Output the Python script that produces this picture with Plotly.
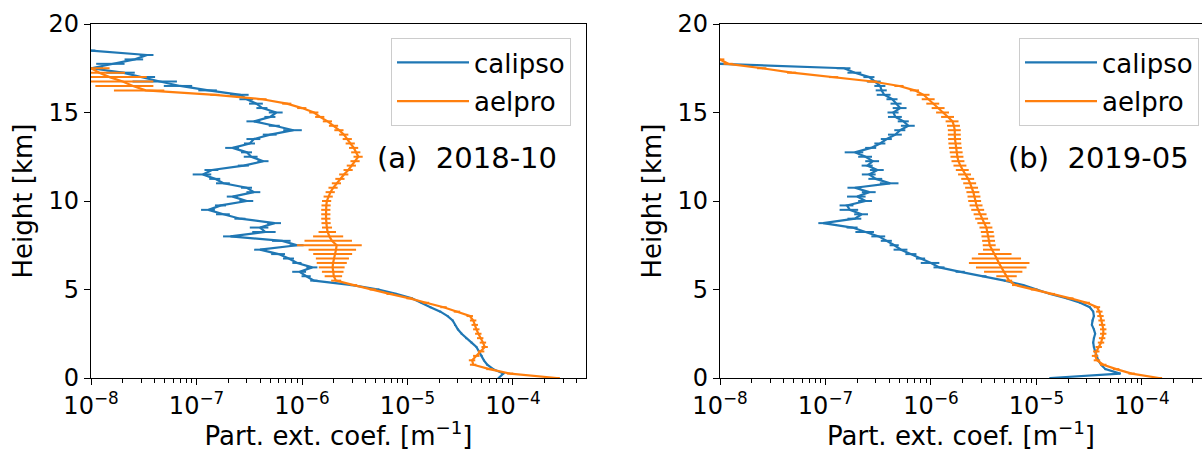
import plotly.graph_objects as go

# ---------------- data ----------------
HEIGHTS = [0.0, 0.25, 0.5, 0.75, 1.0, 1.25, 1.5, 1.75, 2.0, 2.25, 2.5, 2.75,
           3.0, 3.25, 3.5, 3.75, 4.0, 4.25, 4.5, 4.75, 5.0, 5.25, 5.5, 5.75,
           6.0, 6.25, 6.5, 6.75, 7.0, 7.25, 7.5, 7.75, 8.0, 8.25, 8.5, 8.75,
           9.0, 9.25, 9.5, 9.75, 10.0, 10.25, 10.5, 10.75, 11.0, 11.25, 11.5, 11.75,
           12.0, 12.25, 12.5, 12.75, 13.0, 13.25, 13.5, 13.75, 14.0, 14.25, 14.5, 14.75,
           15.0, 15.25, 15.5, 15.75, 16.0, 16.25, 16.5, 16.75, 17.0, 17.25, 17.5, 17.75,
           18.0, 18.25, 18.5]

# panel (a) 2018-10
calipso_a = [7.3e-5, 8.1e-5, 6.5e-5, 5.7e-5, 5.3e-5, 5.05e-5, 4.8e-5, 4.5e-5, 4.05e-5, 3.6e-5,
             3.26e-5, 3.0e-5, 2.82e-5, 2.68e-5, 2.4e-5, 2.05e-5, 1.65e-5, 1.36e-5, 1.1e-5, 7.8e-6,
             5.3e-6, 3.0e-6, 1.3e-6, 1.1e-6, 9.5e-7, 1.25e-6, 9.0e-7, 7.5e-7, 6.0e-7, 4.0e-7,
             9.0e-7, 6.5e-7, 2.1e-7, 4.5e-7, 4.0e-7, 5.5e-7, 2.6e-7, 1.8e-7, 1.3e-7, 1.7e-7,
             3.0e-7, 2.2e-7, 3.5e-7, 3.0e-7, 1.8e-7, 1.5e-7, 1.15e-7, 1.4e-7, 2.8e-7, 4.3e-7,
             3.3e-7, 3.0e-7, 2.2e-7, 3.2e-7, 3.5e-7, 5.0e-7, 8.3e-7, 5.5e-7, 3.5e-7, 5.0e-7,
             5.7e-7, 4.2e-7, 3.7e-7, 3.0e-7, 2.6e-7, 1.3e-7, 7.0e-8, 4.5e-8, 3.0e-8, 2.0e-8,
             1.0e-8, 1.6e-8, 2.6e-8, 3.4e-8, 1.0e-8]
calipso_a_err = [0.02] * 21 + [
    0.05, 0.08, 0.1, 0.15, 0.12, 0.1, 0.12, 0.15, 0.12, 0.15, 0.2, 0.15, 0.25, 0.2,
    0.15, 0.12, 0.15, 0.15, 0.12, 0.15, 0.12, 0.15, 0.12, 0.15, 0.12, 0.2, 0.15, 0.12,
    0.12, 0.15, 0.12, 0.15, 0.12, 0.15, 0.15, 0.2, 0.12, 0.15, 0.12, 0.15, 0.12, 0.15,
    0.15, 0.2, 0.2, 0.3, 0.45, 0.35, 0.3, 0.3, 0.3, 0.2, 0.15, 0.1]

aelpro_a = [2.6e-4, 9.4e-5, 6.0e-5, 4.2e-5, 4.1e-5, 4.5e-5, 5.0e-5, 5.4e-5, 5.2e-5, 4.9e-5,
            4.7e-5, 4.5e-5, 4.35e-5, 4.2e-5, 3.9e-5, 2.95e-5, 2.2e-5, 1.5e-5, 1.05e-5, 6.8e-6,
            4.7e-6, 3.1e-6, 2.1e-6, 2.0e-6, 1.98e-6, 1.95e-6, 1.97e-6, 2.02e-6, 2.06e-6, 2.1e-6,
            2.13e-6, 1.92e-6, 1.82e-6, 1.75e-6, 1.72e-6, 1.7e-6, 1.69e-6, 1.69e-6, 1.69e-6, 1.7e-6,
            1.72e-6, 1.78e-6, 1.86e-6, 1.98e-6, 2.13e-6, 2.3e-6, 2.5e-6, 2.75e-6, 2.95e-6, 3.2e-6,
            3.42e-6, 3.25e-6, 3.1e-6, 2.88e-6, 2.7e-6, 2.5e-6, 2.25e-6, 2.0e-6, 1.75e-6, 1.48e-6,
            1.3e-6, 1.0e-6, 7.2e-7, 4.2e-7, 1.5e-7, 3.3e-8, 2.5e-8, 2.0e-8, 1.5e-8, 1.2e-8,
            1.0e-8]
aelpro_a_errp = [0.07] * 22 + [0.12, 0.2, 0.25, 0.3, 0.35, 0.38, 0.45, 0.55, 0.73, 0.55, 0.35, 0.2, 0.12] \
    + [0.1] * 30 + [0.5, 0.56, 0.95, 1.25, 0.75, 0.5]
aelpro_a_errm = [0.07] * 22 + [0.1, 0.18, 0.22, 0.26, 0.3, 0.33, 0.38, 0.45, 0.58, 0.45, 0.3, 0.18, 0.1] \
    + [0.1] * 30 + [0.5, 0.56, 0.95, 0.95, 0.75, 0.5]

# panel (b) 2019-05
calipso_b = [1.35e-5, 6.2e-5, 4.5e-5, 4.1e-5, 3.85e-5, 3.7e-5, 3.6e-5, 3.5e-5, 3.45e-5, 3.5e-5,
             3.6e-5, 3.5e-5, 3.35e-5, 3.4e-5, 3.5e-5, 3.45e-5, 3.2e-5, 2.6e-5, 1.95e-5, 1.35e-5,
             1.0e-5, 7.5e-6, 5.0e-6, 3.2e-6, 1.9e-6, 1.2e-6, 1.0e-6, 8.0e-7, 6.5e-7, 5.2e-7,
             4.5e-7, 3.8e-7, 3.2e-7, 2.4e-7, 1.8e-7, 9.5e-8, 1.9e-7, 2.2e-7, 1.7e-7, 1.6e-7,
             2.4e-7, 2.0e-7, 2.6e-7, 1.9e-7, 4.1e-7, 3.0e-7, 2.6e-7, 3.1e-7, 2.5e-7, 2.8e-7,
             2.4e-7, 1.9e-7, 2.7e-7, 3.3e-7, 3.8e-7, 4.6e-7, 5.1e-7, 6.1e-7, 5.5e-7, 4.6e-7,
             4.4e-7, 5.1e-7, 4.7e-7, 4.3e-7, 3.6e-7, 3.4e-7, 3.3e-7, 2.9e-7, 2.6e-7, 1.9e-7,
             1.5e-7, 1.0e-8]
calipso_b_err = [0.02] * 23 + [
    0.05, 0.1, 0.12, 0.2, 0.1, 0.12, 0.15, 0.1, 0.12, 0.15, 0.2, 0.12, 0.1, 0.15,
    0.15, 0.2, 0.15, 0.15, 0.2, 0.15, 0.15, 0.2, 0.15, 0.15, 0.15, 0.12, 0.15, 0.15,
    0.2, 0.12, 0.12, 0.12, 0.15, 0.12, 0.15, 0.12, 0.15, 0.12, 0.15, 0.12, 0.12, 0.15,
    0.12, 0.12, 0.15, 0.12, 0.15, 0.15, 0.1]

aelpro_b = [1.45e-4, 8.0e-5, 5.7e-5, 4.3e-5, 3.75e-5, 3.6e-5, 3.7e-5, 3.9e-5, 4.1e-5, 4.2e-5,
            4.3e-5, 4.3e-5, 4.2e-5, 4.15e-5, 4.05e-5, 3.95e-5, 3.75e-5, 3.0e-5, 2.1e-5, 1.4e-5,
            9.5e-6, 6.3e-6, 5.5e-6, 5.2e-6, 4.9e-6, 4.6e-6, 4.4e-6, 4.2e-6, 4.0e-6, 3.75e-6,
            3.6e-6, 3.55e-6, 3.5e-6, 3.45e-6, 3.35e-6, 3.2e-6, 3.05e-6, 2.95e-6, 2.8e-6, 2.7e-6,
            2.62e-6, 2.58e-6, 2.52e-6, 2.45e-6, 2.35e-6, 2.25e-6, 2.1e-6, 2.0e-6, 1.9e-6, 1.82e-6,
            1.78e-6, 1.75e-6, 1.72e-6, 1.7e-6, 1.69e-6, 1.68e-6, 1.68e-6, 1.65e-6, 1.6e-6, 1.45e-6,
            1.3e-6, 1.18e-6, 1.05e-6, 9.5e-7, 8.5e-7, 7.0e-7, 5.0e-7, 2.8e-7, 1.2e-7, 4.8e-8,
            2.5e-8, 1.2e-8, 1.0e-8]
aelpro_b_errp = [0.07] * 23 + [0.25, 0.5, 0.75, 0.95, 0.7, 0.45, 0.2] + [0.14] * 35 + [0.1] * 8
aelpro_b_errm = [0.07] * 23 + [0.2, 0.35, 0.42, 0.48, 0.42, 0.3, 0.17] + [0.14] * 35 + [0.1] * 8

X_TICKS = [1e-8, 1e-7, 1e-6, 1e-5, 1e-4]
X_TICKTEXT = ["10<sup>−8</sup>", "10<sup>−7</sup>", "10<sup>−6</sup>", "10<sup>−5</sup>", "10<sup>−4</sup>"]
Y_TICKS = [0, 5, 10, 15, 20]
LABELS = ["(a)\u00a0 2018-10", "(b)\u00a0 2019-05"]

# ---------------- figure ----------------
W, H = 1202, 451
ML, MR, MT, MB = 0, 0, 24, 73
PH = H - MT - MB
BLUE = "#1f77b4"
ORANGE = "#ff7f0e"
FONT = "DejaVu Sans"

fig = go.Figure()


def add(vals, rp, rm, color, name, xa, ya, legend):
    y = HEIGHTS[:len(vals)]
    fig.add_trace(go.Scatter(
        x=vals, y=y, mode="lines", name=name, legend=legend, legendgroup=legend + name,
        line=dict(color=color, width=2.2),
        error_x=dict(type="data", symmetric=False,
                     array=[v * r for v, r in zip(vals, rp)],
                     arrayminus=[v * r for v, r in zip(vals, rm)],
                     color=color, thickness=2, width=0),
        xaxis=xa, yaxis=ya))


add(calipso_a, calipso_a_err, calipso_a_err, BLUE, "calipso", "x", "y", "legend")
add(aelpro_a, aelpro_a_errp, aelpro_a_errm, ORANGE, "aelpro", "x", "y", "legend")
add(calipso_b, calipso_b_err, calipso_b_err, BLUE, "calipso", "x2", "y2", "legend2")
add(aelpro_b, aelpro_b_errp, aelpro_b_errm, ORANGE, "aelpro", "x2", "y2", "legend2")

minor_vals = [m * 10.0 ** e for e in range(-8, -3) for m in range(2, 10)]


def xaxis(domain, rng, anchor):
    return dict(domain=domain, type="log", range=rng, anchor=anchor,
                tickvals=X_TICKS, ticktext=X_TICKTEXT, ticks="outside", ticklen=6,
                tickwidth=1.2, tickcolor="black", showline=True, linecolor="black",
                linewidth=1.2, mirror=True, showgrid=False, zeroline=False,
                tickfont=dict(size=24, color="black"),
                minor=dict(tickvals=minor_vals, ticks="outside", ticklen=3.5,
                           tickwidth=1, tickcolor="black", showgrid=False),
                title=dict(text="Part. ext. coef. [m<sup>−1</sup>]",
                           font=dict(size=26, color="black"), standoff=6))


def yaxis(anchor, mirror):
    return dict(domain=[0, 1], range=[0, 20], anchor=anchor, tickvals=Y_TICKS,
                ticks="outside", ticklen=6, tickwidth=1.2, tickcolor="black",
                showline=True, linecolor="black", linewidth=1.2, mirror=mirror,
                showgrid=False, zeroline=False, tickfont=dict(size=24, color="black"),
                title=dict(text="Height [km]", font=dict(size=26, color="black"), standoff=8))


leg_common = dict(xanchor="right", yanchor="top", bordercolor="#cccccc", borderwidth=1,
                  bgcolor="rgba(255,255,255,0.8)", font=dict(size=26, color="black"),
                  tracegroupgap=2, itemwidth=72)

fig.update_layout(
    width=W, height=H,
    margin=dict(l=ML, r=MR, t=MT, b=MB, autoexpand=False),
    paper_bgcolor="white", plot_bgcolor="white",
    font=dict(family=FONT, color="black"),
    xaxis=xaxis([91 / W, 586 / W], [-8, -3.308], "y"),
    yaxis=yaxis("x", True),
    xaxis2=xaxis([720 / W, 1.0], [-8, -3.431], "y2"),
    yaxis2=yaxis("x2", False),
    legend=dict(x=571 / W, y=(378 - 38) / PH, **leg_common),
    legend2=dict(x=1199 / W, y=(378 - 38) / PH, **leg_common),
    annotations=[
        dict(text=LABELS[0], x=559 / W, y=(378 - 158) / PH, xref="paper", yref="paper",
             xanchor="right", yanchor="middle", showarrow=False,
             font=dict(size=29, color="black")),
        dict(text=LABELS[1], x=1191 / W, y=(378 - 158) / PH, xref="paper", yref="paper",
             xanchor="right", yanchor="middle", showarrow=False,
             font=dict(size=29, color="black")),
    ],
)

fig.write_html("out.html", config={"displayModeBar": False},
               post_script="document.body.style.margin='0px';")
